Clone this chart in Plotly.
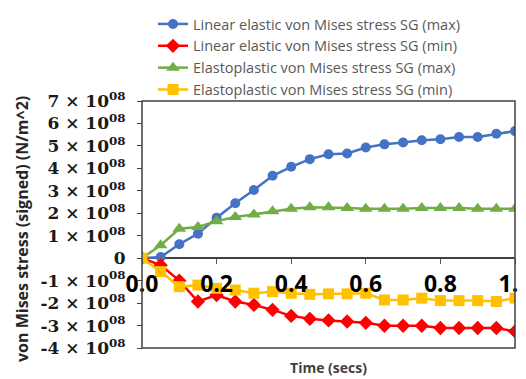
import plotly.graph_objects as go

time_s = [0.0, 0.05, 0.1, 0.15, 0.2, 0.25, 0.3, 0.35, 0.4, 0.45, 0.5,
          0.55, 0.6, 0.65, 0.7, 0.75, 0.8, 0.85, 0.9, 0.95, 1.0]

lin_max = [0.0, 0.05e8, 0.62e8, 1.09e8, 1.80e8, 2.45e8, 3.04e8, 3.67e8, 4.07e8, 4.41e8, 4.63e8,
           4.66e8, 4.93e8, 5.07e8, 5.15e8, 5.25e8, 5.30e8, 5.40e8, 5.40e8, 5.54e8, 5.66e8]
lin_min = [0.0, -0.31e8, -1.0e8, -1.93e8, -1.64e8, -1.93e8, -2.08e8, -2.30e8, -2.57e8, -2.70e8, -2.77e8,
           -2.82e8, -2.88e8, -3.01e8, -3.01e8, -3.01e8, -3.11e8, -3.11e8, -3.11e8, -3.11e8, -3.26e8]
ep_max = [0.0, 0.58e8, 1.31e8, 1.39e8, 1.65e8, 1.83e8, 1.95e8, 2.09e8, 2.20e8, 2.27e8, 2.27e8,
          2.24e8, 2.20e8, 2.20e8, 2.20e8, 2.24e8, 2.24e8, 2.24e8, 2.20e8, 2.20e8, 2.20e8]
ep_min = [0.0, -0.6e8, -1.27e8, -1.20e8, -1.34e8, -1.42e8, -1.56e8, -1.49e8, -1.56e8, -1.61e8, -1.59e8,
          -1.59e8, -1.56e8, -1.86e8, -1.86e8, -1.78e8, -1.89e8, -1.89e8, -1.89e8, -1.93e8, -1.78e8]

series_names = ["Linear elastic von Mises stress SG (max)",
                "Linear elastic von Mises stress SG (min)",
                "Elastoplastic von Mises stress SG (max)",
                "Elastoplastic von Mises stress SG (min)"]

y_title = "von Mises stress (signed) (N/m^2)"
x_title = "Time (secs)"

y_tick_vals = [-4e8, -3e8, -2e8, -1e8, 0, 1e8, 2e8, 3e8, 4e8, 5e8, 6e8, 7e8]
y_tick_text = ["-4 × 10<sup>08</sup>", "-3 × 10<sup>08</sup>", "-2 × 10<sup>08</sup>",
               "-1 × 10<sup>08</sup>", "0", "1 × 10<sup>08</sup>", "2 × 10<sup>08</sup>",
               "3 × 10<sup>08</sup>", "4 × 10<sup>08</sup>", "5 × 10<sup>08</sup>",
               "6 × 10<sup>08</sup>", "7 × 10<sup>08</sup>"]
x_tick_vals = [0.0, 0.2, 0.4, 0.6, 0.8, 1.0]
x_tick_text = ["0.0", "0.2", "0.4", "0.6", "0.8", "1.0"]

styles = [
    dict(color="#4472C4", symbol="circle", size=10),
    dict(color="#FF0000", symbol="diamond", size=11),
    dict(color="#70AD47", symbol="triangle-up", size=12),
    dict(color="#FFC000", symbol="square", size=11),
]

fig = go.Figure()
for name, vals, st in zip(series_names, [lin_max, lin_min, ep_max, ep_min], styles):
    fig.add_trace(go.Scatter(
        x=time_s, y=vals, name=name, mode="lines+markers",
        line=dict(color=st["color"], width=2.5),
        marker=dict(color=st["color"], symbol=st["symbol"], size=st["size"]),
    ))

# page body has an 8px margin: figure is 518x371, positioned at (8,8)
W, H, OFF = 518, 371, 8
ML, MR, MT, MB = 142 - OFF, 11, 101 - OFF, 31
PW = W - ML - MR
PH = H - MT - MB
fig.update_layout(
    width=W, height=H,
    margin=dict(l=ML, r=MR, t=MT, b=MB, autoexpand=False),
    paper_bgcolor="white", plot_bgcolor="white",
    showlegend=True,
    legend=dict(x=(153 - OFF) / W, y=1 - (-3 - OFF) / H, xanchor="left", yanchor="top",
                xref="container", yref="container",
                font=dict(family="Open Sans", size=14.5, color="#595959"),
                bgcolor="rgba(0,0,0,0)", tracegroupgap=0),
    xaxis=dict(range=[0, 1], anchor="free", position=4/11, automargin=False,
               tickvals=x_tick_vals, ticktext=x_tick_text, ticklabeloverflow="allow",
               ticks="outside", ticklen=5, tickcolor="#595959",
               showline=False, showgrid=False, zeroline=False,
               tickfont=dict(family="Open Sans", size=23, color="black", weight="bold"),
               title=dict(text="<b>" + x_title + "</b>", standoff=65,
                          font=dict(family="Open Sans", size=14, color="#404040"))),
    yaxis=dict(range=[-4e8, 7e8], domain=[0, 1], automargin=False,
               anchor="free", position=0,
               tickvals=y_tick_vals, ticktext=y_tick_text,
               ticks="outside", ticklen=5, tickcolor="#404040", ticklabelstandoff=8,
               showline=False, showgrid=False,
               zeroline=True, zerolinecolor="#404040", zerolinewidth=1.5,
               tickfont=dict(family="DejaVu Serif", size=17, color="#1a1a1a", weight="bold")),
)
fig.add_annotation(text="<b>" + y_title + "</b>", textangle=-90,
                   xref="paper", yref="paper", x=(22 - 142) / PW, y=(348 - 229) / PH,
                   xanchor="center", yanchor="middle", showarrow=False,
                   font=dict(family="Open Sans", size=16, color="#262626"))
fig.add_shape(type="rect", xref="paper", yref="paper", x0=0, x1=1, y0=0, y1=1,
              line=dict(color="#404040", width=1.5), layer="above")

fig.write_html("out.html")
